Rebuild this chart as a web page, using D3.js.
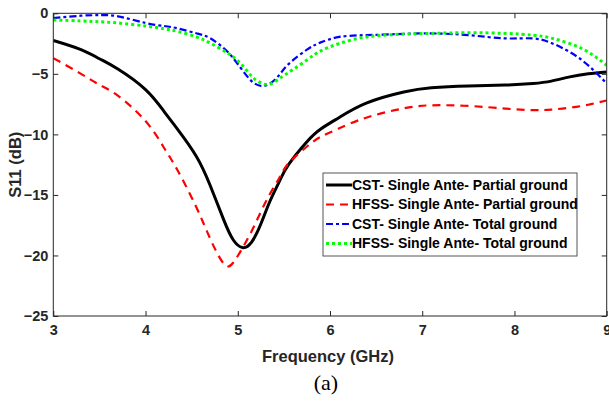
<!DOCTYPE html>
<html>
<head>
<meta charset="utf-8">
<script src="https://cdn.jsdelivr.net/npm/d3@7"></script>
<style>
  html, body { margin: 0; padding: 0; background: #fff; }
  svg { display: block; }
  text { font-family: "Liberation Sans", Arial, sans-serif; }
</style>
</head>
<body>
<svg id="chart" width="609" height="401"></svg>
<script>
// ---- Data ----
const freq = [3.0, 3.3, 3.5, 3.7, 4.0, 4.2, 4.35, 4.55, 4.7, 4.85, 4.95, 5.05, 5.15, 5.25, 5.35, 5.45, 5.55, 5.75, 5.9, 6.1, 6.4, 6.8, 7.1, 7.5, 7.9, 8.2, 8.4, 8.6, 8.8, 9.0];
const cstPartial  = [-2.25, -3.0, -3.75, -4.6, -6.3, -8.1, -9.6, -11.8, -14.2, -17.1, -18.7, -19.35, -18.9, -17.4, -15.5, -13.9, -12.5, -10.6, -9.55, -8.6, -7.4, -6.5, -6.15, -6.0, -5.93, -5.8, -5.6, -5.25, -5.0, -4.84];
const hfssPartial = [-3.7, -5.0, -5.9, -6.8, -8.9, -11.1, -13.0, -16.0, -18.6, -20.7, -20.6, -19.4, -18.0, -16.4, -14.9, -13.6, -12.4, -11.0, -10.2, -9.5, -8.6, -7.85, -7.6, -7.65, -7.87, -8.0, -7.95, -7.8, -7.55, -7.2];
const cstTotal    = [-0.4, -0.2, -0.15, -0.25, -0.8, -1.05, -1.25, -1.65, -2.05, -2.9, -3.7, -4.7, -5.6, -6.0, -5.8, -5.1, -4.2, -3.0, -2.4, -1.95, -1.8, -1.7, -1.66, -1.8, -2.07, -2.07, -2.45, -3.2, -4.3, -5.8];
const hfssTotal   = [-0.55, -0.63, -0.7, -0.8, -1.05, -1.28, -1.5, -1.95, -2.45, -3.1, -3.6, -4.3, -5.2, -5.75, -5.85, -5.4, -4.9, -3.85, -3.1, -2.5, -1.95, -1.72, -1.66, -1.6, -1.66, -1.8, -2.05, -2.5, -3.2, -4.3];
const seriesNames = [
  "CST- Single Ante- Partial ground",
  "HFSS- Single Ante- Partial ground",
  "CST- Single Ante- Total ground",
  "HFSS- Single Ante- Total ground"
];
const xTicks = [3, 4, 5, 6, 7, 8, 9];
const yTicks = [0, -5, -10, -15, -20, -25];
const xTitle = "Frequency (GHz)";
const yTitle = "S11 (dB)";
const caption = "(a)";

// ---- Styles ----
const styles = [
  { color: "#000000", width: 3,   dash: null },
  { color: "#ff0000", width: 2.2, dash: "8,6" },
  { color: "#0000ff", width: 2.2, dash: "7,3,3,3" },
  { color: "#00ff00", width: 3,   dash: "3,3" }
];
const allSeries = [cstPartial, hfssPartial, cstTotal, hfssTotal];

const svg = d3.select("#chart");
const L = 53.3, R = 606.7, T = 13.3, B = 316;
const x = d3.scaleLinear().domain([3, 9]).range([L, R]);
const y = d3.scaleLinear().domain([-25, 0]).range([B, T]);
const axisColor = "#262626";

// clip
svg.append("defs").append("clipPath").attr("id", "clip")
  .append("rect").attr("x", L).attr("y", T).attr("width", R - L).attr("height", B - T);

// Lines
const line = d3.line().x(d => x(d[0])).y(d => y(d[1])).curve(d3.curveNatural);
const g = svg.append("g").attr("clip-path", "url(#clip)");
allSeries.forEach((vals, i) => {
  const pts = freq.map((f, j) => [f, vals[j]]);
  g.append("path").datum(pts)
    .attr("d", line)
    .attr("fill", "none")
    .attr("stroke", styles[i].color)
    .attr("stroke-width", styles[i].width)
    .attr("stroke-dasharray", styles[i].dash)
    .attr("stroke-linejoin", "round");
});

// Axes (MATLAB-style box, ticks inward on all sides)
const tickStyle = (sel) => {
  sel.select(".domain").remove();
  sel.selectAll(".tick line").attr("stroke", axisColor).attr("stroke-width", 1);
};
const fontSpec = (sel) => sel.selectAll("text")
  .attr("fill", "#262626").style("font-size", "14.5px").style("font-weight", "bold")
  .style("font-family", "'Liberation Sans', Arial, sans-serif");

svg.append("g").attr("transform", `translate(0,${B})`)
  .call(d3.axisBottom(x).tickValues(xTicks).tickFormat(d3.format("d")).tickSizeInner(-5).tickPadding(9))
  .call(tickStyle).call(fontSpec);
svg.append("g").attr("transform", `translate(0,${T})`)
  .call(d3.axisTop(x).tickValues(xTicks).tickFormat("").tickSizeInner(-5))
  .call(tickStyle);
svg.append("g").attr("transform", `translate(${L},0)`)
  .call(d3.axisLeft(y).tickValues(yTicks).tickFormat(d3.format("d")).tickSizeInner(-5).tickPadding(5))
  .call(tickStyle).call(fontSpec);
svg.append("g").attr("transform", `translate(${R},0)`)
  .call(d3.axisRight(y).tickValues(yTicks).tickFormat("").tickSizeInner(-5))
  .call(tickStyle);

svg.append("rect").attr("x", L).attr("y", T).attr("width", R - L).attr("height", B - T)
  .attr("fill", "none").attr("stroke", axisColor).attr("stroke-width", 1);

// Axis titles
svg.append("text").attr("x", 328).attr("y", 362)
  .attr("text-anchor", "middle").style("font-size", "16.5px").style("font-weight", "bold")
  .attr("fill", "#262626").text(xTitle);
svg.append("text").attr("transform", `translate(21,${(T + B) / 2}) rotate(-90)`)
  .attr("text-anchor", "middle").style("font-size", "16.5px").style("font-weight", "bold")
  .attr("fill", "#262626").text(yTitle);

// caption
svg.append("text").attr("x", 326).attr("y", 390)
  .attr("text-anchor", "middle").style("font-size", "22px")
  .style("font-family", "'Liberation Serif', 'DejaVu Serif', serif")
  .attr("fill", "#000").text(caption);

// Legend
const lg = svg.append("g");
lg.append("rect").attr("x", 323).attr("y", 173).attr("width", 254).attr("height", 83)
  .attr("fill", "#fff").attr("stroke", "#555").attr("stroke-width", 1);
const rowY = [185, 204.5, 224, 243.5];
seriesNames.forEach((name, i) => {
  lg.append("line").attr("x1", 326).attr("x2", 352).attr("y1", rowY[i]).attr("y2", rowY[i])
    .attr("stroke", styles[i].color).attr("stroke-width", styles[i].width)
    .attr("stroke-dasharray", styles[i].dash);
  lg.append("text").attr("x", 352).attr("y", rowY[i]).attr("dy", "0.35em")
    .style("font-size", "14px").style("font-weight", "bold").attr("fill", "#000")
    .text(name);
});
</script>
</body>
</html>
